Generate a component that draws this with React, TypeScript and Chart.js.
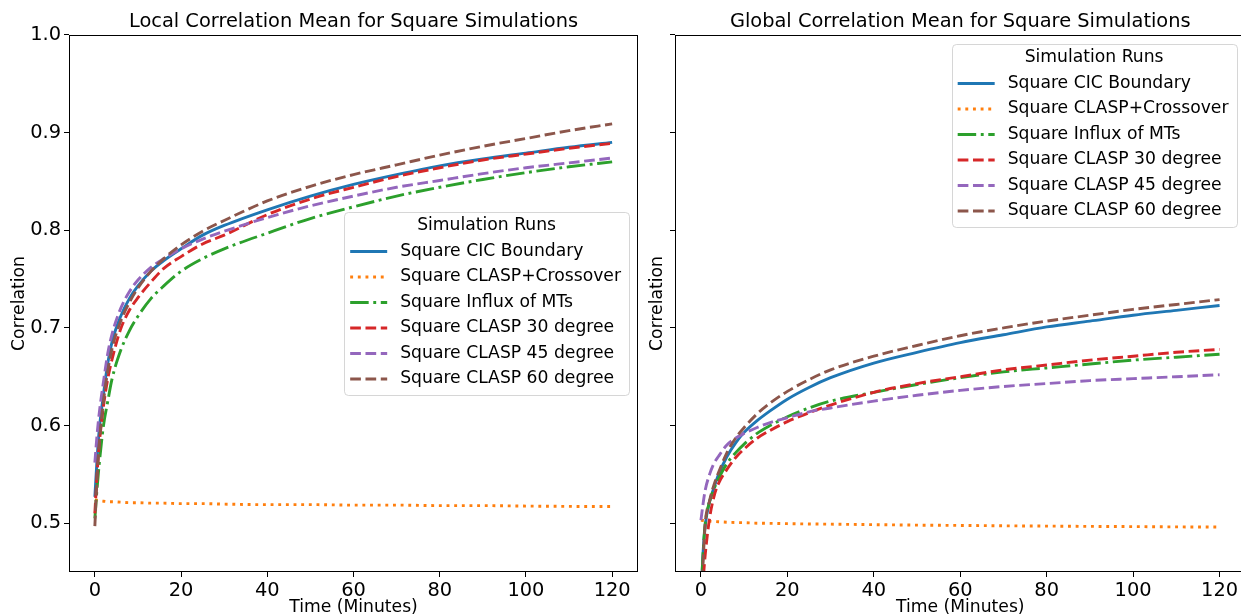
import React, { useEffect, useRef } from "react";
import { Chart, registerables } from "chart.js";

Chart.register(...registerables);

// ---------- data ----------
const TIME = [0, 0.5, 1, 2, 3, 4, 6, 8, 10, 13, 16, 20, 25, 30, 40, 50, 60, 70, 80, 90, 100, 110, 120];

const SERIES_LABELS = [
  "Square CIC Boundary",
  "Square CLASP+Crossover",
  "Square Influx of MTs",
  "Square CLASP 30 degree",
  "Square CLASP 45 degree",
  "Square CLASP 60 degree",
];

// Local correlation mean
const LOCAL_CIC = [0.527, 0.565, 0.595, 0.632, 0.664, 0.686, 0.712, 0.73, 0.743, 0.758, 0.769, 0.781, 0.795, 0.805, 0.821, 0.835, 0.847, 0.857, 0.866, 0.873, 0.879, 0.885, 0.89];
const LOCAL_CROSSOVER = [0.524, 0.5235, 0.523, 0.5225, 0.522, 0.522, 0.5215, 0.521, 0.521, 0.5205, 0.5205, 0.52, 0.52, 0.5195, 0.519, 0.519, 0.5185, 0.5185, 0.518, 0.518, 0.5175, 0.5172, 0.517];
const LOCAL_INFLUX = [0.505, 0.535, 0.56, 0.6, 0.625, 0.648, 0.677, 0.697, 0.712, 0.73, 0.743, 0.758, 0.771, 0.781, 0.797, 0.812, 0.824, 0.835, 0.844, 0.852, 0.859, 0.865, 0.87];
const LOCAL_CLASP30 = [0.51, 0.55, 0.58, 0.62, 0.648, 0.668, 0.699, 0.718, 0.731, 0.747, 0.761, 0.773, 0.786, 0.795, 0.816, 0.832, 0.844, 0.855, 0.864, 0.872, 0.878, 0.884, 0.889];
const LOCAL_CLASP45 = [0.562, 0.59, 0.612, 0.645, 0.674, 0.694, 0.72, 0.737, 0.749, 0.762, 0.771, 0.781, 0.791, 0.799, 0.813, 0.825, 0.835, 0.844, 0.851, 0.858, 0.864, 0.869, 0.874];
const LOCAL_CLASP60 = [0.497, 0.545, 0.58, 0.625, 0.656, 0.679, 0.707, 0.726, 0.741, 0.758, 0.771, 0.785, 0.799, 0.81, 0.83, 0.845, 0.857, 0.867, 0.877, 0.886, 0.894, 0.902, 0.909];

// Global correlation mean
const GLOBAL_CIC = [0.42, 0.47, 0.498, 0.522, 0.536, 0.549, 0.568, 0.582, 0.593, 0.605, 0.615, 0.627, 0.639, 0.649, 0.664, 0.675, 0.685, 0.693, 0.701, 0.707, 0.713, 0.718, 0.723];
const GLOBAL_CROSSOVER = [0.503, 0.5028, 0.5025, 0.502, 0.5017, 0.5015, 0.501, 0.5007, 0.5005, 0.5, 0.4998, 0.4995, 0.4992, 0.499, 0.4985, 0.498, 0.4977, 0.4973, 0.497, 0.4967, 0.4965, 0.4962, 0.496];
const GLOBAL_INFLUX = [0.42, 0.47, 0.5, 0.522, 0.535, 0.545, 0.561, 0.572, 0.581, 0.592, 0.6, 0.609, 0.618, 0.625, 0.634, 0.642, 0.649, 0.655, 0.659, 0.663, 0.667, 0.67, 0.673];
const GLOBAL_CLASP30 = [0.4, 0.44, 0.468, 0.505, 0.527, 0.54, 0.555, 0.567, 0.576, 0.587, 0.595, 0.604, 0.613, 0.621, 0.634, 0.643, 0.65, 0.657, 0.662, 0.667, 0.671, 0.675, 0.678];
const GLOBAL_CLASP45 = [0.503, 0.52, 0.534, 0.55, 0.561, 0.568, 0.58, 0.587, 0.592, 0.598, 0.603, 0.608, 0.614, 0.618, 0.625, 0.631, 0.636, 0.64, 0.643, 0.646, 0.648, 0.65, 0.652];
const GLOBAL_CLASP60 = [0.41, 0.46, 0.5, 0.523, 0.539, 0.551, 0.572, 0.587, 0.598, 0.612, 0.623, 0.635, 0.647, 0.657, 0.671, 0.682, 0.692, 0.7, 0.707, 0.713, 0.719, 0.724, 0.729];

const X_TICKS = [0, 20, 40, 60, 80, 100, 120];
const Y_TICKS = [0.5, 0.6, 0.7, 0.8, 0.9, 1.0];

const LOCAL_SERIES = [LOCAL_CIC, LOCAL_CROSSOVER, LOCAL_INFLUX, LOCAL_CLASP30, LOCAL_CLASP45, LOCAL_CLASP60];
const GLOBAL_SERIES = [GLOBAL_CIC, GLOBAL_CROSSOVER, GLOBAL_INFLUX, GLOBAL_CLASP30, GLOBAL_CLASP45, GLOBAL_CLASP60];

// ---------- styles ----------
const FONT = '"DejaVu Sans", sans-serif';
const COLORS = ["#1f77b4", "#ff7f0e", "#2ca02c", "#d62728", "#9467bd", "#8c564b"];
const LW = 2.9;
const DASHES = [[], [2.9, 4.75], [18.5, 4.6, 2.9, 4.6], [10.7, 4.6], [10.7, 4.6], [10.7, 4.6]];

const framePlugin = {
  id: "frame",
  afterDraw(chart: any) {
    const { ctx, chartArea: a } = chart;
    ctx.save();
    ctx.strokeStyle = "#000";
    ctx.lineWidth = 1;
    ctx.setLineDash([]);
    const l = Math.round(a.left) + 0.5;
    const t = Math.round(a.top) + 0.5;
    const r = Math.round(a.right) - 0.5;
    const b = Math.round(a.bottom) - 0.5;
    ctx.strokeRect(l, t, r - l, b - t);
    ctx.restore();
  },
};

const boxLegendPlugin = {
  id: "boxLegend",
  afterDraw(chart: any, _args: any, opts: any) {
    if (!opts || !opts.show) return;
    const { ctx, chartArea: a } = chart;
    const fs = opts.fontSize;
    ctx.save();
    ctx.font = `${fs}px ${FONT}`;
    const items = chart.data.datasets;
    let textW = 0;
    items.forEach((d: any) => {
      textW = Math.max(textW, ctx.measureText(d.label).width);
    });
    const w = 56 + textW + 8;
    const h = 183;
    const x = a.right - 9 - w;
    const y = opts.loc === "upper right" ? a.top + 9 : (a.top + a.bottom) / 2 - h / 2;
    ctx.beginPath();
    ctx.roundRect(Math.round(x) + 0.5, Math.round(y) + 0.5, Math.round(w), Math.round(h), 4);
    ctx.fillStyle = "rgba(255,255,255,0.8)";
    ctx.fill();
    ctx.strokeStyle = "rgba(204,204,204,0.8)";
    ctx.lineWidth = 1;
    ctx.stroke();
    ctx.fillStyle = "#000";
    ctx.textBaseline = "middle";
    ctx.textAlign = "center";
    ctx.fillText(opts.heading, x + w / 2, y + 14);
    items.forEach((d: any, i: number) => {
      const cy = y + 39.5 + i * 25.5;
      ctx.strokeStyle = d.borderColor;
      ctx.lineWidth = d.borderWidth;
      ctx.lineCap = "butt";
      ctx.setLineDash(d.borderDash || []);
      ctx.beginPath();
      ctx.moveTo(x + 6, cy);
      ctx.lineTo(x + 43, cy);
      ctx.stroke();
      ctx.setLineDash([]);
      ctx.fillStyle = "#000";
      ctx.textAlign = "left";
      ctx.fillText(d.label, x + 56, cy);
    });
    ctx.restore();
  },
};

function buildConfig(p: {
  title: string;
  series: number[][];
  yWidth: number;
  yLabels: boolean;
  yTitlePad: number;
  padRight: number;
  legendLoc: string;
}) {
  const datasets = p.series.map((vals, i) => ({
    label: SERIES_LABELS[i],
    data: TIME.map((t, k) => ({ x: t, y: vals[k] })),
    borderColor: COLORS[i],
    backgroundColor: COLORS[i],
    borderWidth: LW,
    borderDash: DASHES[i],
    borderCapStyle: "butt",
    borderJoinStyle: "round",
    pointRadius: 0,
    fill: false,
    cubicInterpolationMode: "monotone",
    order: p.series.length - i,
  }));
  const gridOpts = {
    display: true,
    drawOnChartArea: false,
    drawTicks: true,
    tickLength: 5,
    color: "#000",
    lineWidth: 1,
  };
  return {
    type: "line",
    data: { datasets },
    options: {
      responsive: false,
      animation: false,
      devicePixelRatio: 1,
      events: [],
      layout: { padding: { left: 0, top: 0, right: p.padRight, bottom: 0 } },
      scales: {
        x: {
          type: "linear",
          min: -6,
          max: 126,
          afterBuildTicks: (s: any) => {
            s.ticks = X_TICKS.map((v) => ({ value: v }));
          },
          afterFit: (s: any) => {
            s.height = 44;
          },
          ticks: {
            font: { family: FONT, size: 19.4 },
            color: "#000",
            padding: 2,
            maxRotation: 0,
            autoSkip: false,
            callback: (v: any) => String(v),
          },
          grid: gridOpts,
          border: { display: false },
          title: {
            display: true,
            text: "Time (Minutes)",
            font: { family: FONT, size: 17.2 },
            color: "#000",
            padding: { top: 0, bottom: -2 },
          },
        },
        y: {
          type: "linear",
          min: 0.45,
          max: 1.0,
          afterBuildTicks: (s: any) => {
            s.ticks = Y_TICKS.map((v) => ({ value: v }));
          },
          afterFit: (s: any) => {
            s.width = p.yWidth;
          },
          ticks: {
            font: { family: FONT, size: 19.4 },
            color: "#000",
            padding: 3,
            autoSkip: false,
            callback: (v: any) => (p.yLabels ? Number(v).toFixed(1) : ""),
          },
          grid: gridOpts,
          border: { display: false },
          title: {
            display: true,
            text: "Correlation",
            font: { family: FONT, size: 17.2 },
            color: "#000",
            padding: { top: p.yTitlePad, bottom: 0 },
          },
        },
      },
      plugins: {
        legend: { display: false },
        tooltip: { enabled: false },
        title: {
          display: true,
          text: p.title,
          fullSize: false,
          font: { family: FONT, size: 19.4, weight: "normal" },
          color: "#000",
          padding: { top: 10, bottom: 1.7 },
        },
        boxLegend: {
          show: true,
          heading: "Simulation Runs",
          fontSize: 17.2,
          loc: p.legendLoc,
        },
      },
    },
    plugins: [framePlugin, boxLegendPlugin],
  };
}

export default function App() {
  const leftRef = useRef<HTMLCanvasElement>(null);
  const rightRef = useRef<HTMLCanvasElement>(null);

  useEffect(() => {
    const left = new Chart(
      leftRef.current as HTMLCanvasElement,
      buildConfig({
        title: "Local Correlation Mean for Square Simulations",
        series: LOCAL_SERIES,
        yWidth: 69,
        yLabels: true,
        yTitlePad: 9.5,
        padRight: 2,
        legendLoc: "center right",
      }) as any
    );
    const right = new Chart(
      rightRef.current as HTMLCanvasElement,
      buildConfig({
        title: "Global Correlation Mean for Square Simulations",
        series: GLOBAL_SERIES,
        yWidth: 35,
        yLabels: false,
        yTitlePad: 7.7,
        padRight: 4.5,
        legendLoc: "upper right",
      }) as any
    );
    return () => {
      left.destroy();
      right.destroy();
    };
  }, []);

  return (
    <div
      style={{
        position: "absolute",
        left: 0,
        top: 0,
        width: 1241,
        height: 616,
        overflow: "hidden",
        background: "#fff",
      }}
    >
      <canvas ref={leftRef} width={640} height={616} style={{ position: "absolute", left: 0, top: 0 }} />
      <canvas ref={rightRef} width={610} height={616} style={{ position: "absolute", left: 640, top: 0 }} />
    </div>
  );
}
